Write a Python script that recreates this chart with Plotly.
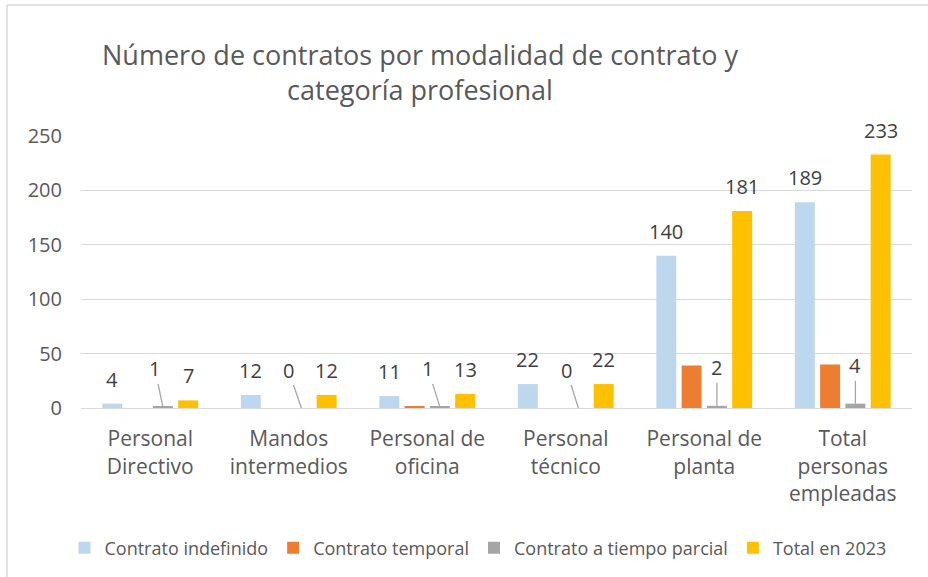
import plotly.graph_objects as go

categories = ["Personal<br>Directivo", "Mandos<br>intermedios", "Personal de<br>oficina",
              "Personal<br>técnico", "Personal de<br>planta", "Total<br>personas<br>empleadas"]
indefinido = [4, 12, 11, 22, 140, 189]
temporal = [0, 0, 1, 0, 39, 40]
parcial = [1, 0, 1, 0, 2, 4]
total_2023 = [7, 12, 13, 22, 181, 233]

series_names = ["Contrato indefinido", "Contrato temporal", "Contrato a tiempo parcial", "Total en 2023"]
colors = ["#BDD7EE", "#ED7D31", "#A5A5A5", "#FFC000"]

W, H = 928, 577
ML, MR, MT, MB = 81, 16, 136, 169
BARGAP, GROUPGAP = 0.27, 0.21
TXT = "#595959"
FONT = "Open Sans"

fig = go.Figure()
for name, vals, col in zip(series_names, [indefinido, temporal, parcial, total_2023], colors):
    fig.add_trace(go.Bar(x=list(range(len(categories))), y=vals, name=name,
                         marker=dict(color=col, line=dict(width=0))))

# bar centre offsets (category units) from the library's grouping rules
n = 4
slot = (1 - BARGAP) / n
centers = [-(1 - BARGAP) / 2 + (k + 0.5) * slot for k in range(n)]

ann = []
for i, v in enumerate(indefinido):
    ann.append(dict(x=i + centers[0], y=v, text=str(v), showarrow=False, yanchor="bottom",
                    yshift=9, font=dict(size=20, color="#404040", family=FONT)))
for i, v in enumerate(total_2023):
    ann.append(dict(x=i + centers[3], y=v, text=str(v), showarrow=False, yanchor="bottom",
                    yshift=9, font=dict(size=20, color="#404040", family=FONT)))
gray_dx = [-8, -13, -12, -12, 0, 0]
for i, v in enumerate(parcial):
    ann.append(dict(x=i + centers[2], y=v, text=str(v), showarrow=True, arrowhead=0,
                    arrowwidth=1.3, arrowcolor="#A6A6A6", ax=gray_dx[i], ay=-38, standoff=0,
                    font=dict(size=20, color="#404040", family=FONT)))

# chart frame (left and top edges visible)
pw, ph = W - ML - MR, H - MT - MB
def px_x(p): return (p - ML) / pw
def px_y(p): return (H - MB - p) / ph
shapes = [
    dict(type="line", xref="paper", yref="paper", x0=px_x(7), x1=px_x(7), y0=px_y(5), y1=px_y(H),
         line=dict(color="#D9D9D9", width=1.5)),
    dict(type="line", xref="paper", yref="paper", x0=px_x(7), x1=px_x(W), y0=px_y(5), y1=px_y(5),
         line=dict(color="#D9D9D9", width=1.5)),
]

fig.update_layout(
    width=W, height=H,
    margin=dict(l=ML, r=MR, t=MT, b=MB),
    paper_bgcolor="white", plot_bgcolor="white",
    barmode="group", bargap=BARGAP, bargroupgap=GROUPGAP,
    font=dict(family=FONT, color=TXT),
    title=dict(text="Número de contratos por modalidad de contrato y<br>categoría profesional",
               x=420 / W, xanchor="center", xref="container",
               y=1 - 65 / H, yanchor="top", yref="container",
               font=dict(size=27, color=TXT, family=FONT)),
    xaxis=dict(tickmode="array", tickvals=list(range(len(categories))), ticktext=categories,
               range=[-0.5, len(categories) - 0.5], showgrid=False, showline=True,
               linecolor="#D9D9D9", linewidth=1, ticks="",
               tickfont=dict(size=21, color=TXT, family=FONT), ticklabelstandoff=12),
    yaxis=dict(range=[0, 250], dtick=50, showgrid=True, gridcolor="#D9D9D9", gridwidth=1,
               zeroline=False, ticks="", tickfont=dict(size=20, color=TXT, family=FONT),
               ticklabelstandoff=18),
    legend=dict(orientation="h", xref="container", yref="container", x=478 / W, xanchor="center",
                y=1 - 548 / H, yanchor="middle", font=dict(size=18, color=TXT, family=FONT),
                itemwidth=30, traceorder="normal"),
    annotations=ann, shapes=shapes,
)

fig.write_html("out.html", config={"displayModeBar": False},
               post_script="document.body.style.margin='0';document.body.style.overflow='hidden';")
